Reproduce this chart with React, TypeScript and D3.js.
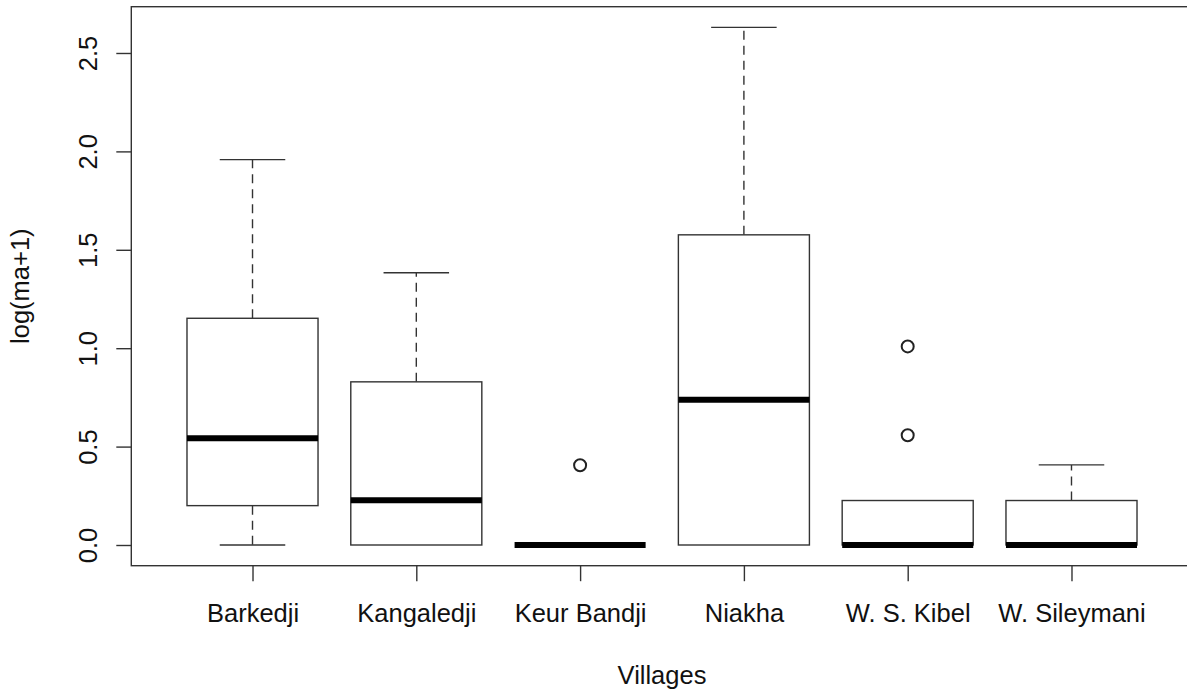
import React, { useRef, useEffect } from 'react';
import * as d3 from 'd3';

const villages = ['Barkedji', 'Kangaledji', 'Keur Bandji', 'Niakha', 'W. S. Kibel', 'W. Sileymani'];
const whiskerLow = [0, 0, 0, 0, 0, 0];
const q1 = [0.2, 0, 0, 0, 0, 0];
const median = [0.543, 0.227, 0, 0.738, 0, 0];
const q3 = [1.152, 0.829, 0, 1.576, 0.226, 0.226];
const whiskerHigh = [1.958, 1.383, 0, 2.63, 0.226, 0.407];
const outliers = [[], [], [0.405], [], [0.558, 1.009], []];
const yTicks = [0, 0.5, 1, 1.5, 2, 2.5];

const App = () => {
  const svgRef = useRef(null);
  const width = 1187;
  const height = 691;

  useEffect(() => {
    const svg = d3.select(svgRef.current);
    svg.selectAll('*').remove();

    const margin = { top: 6.7, left: 131.3, bottom: 125.3 };
    const plotRight = 1192.7;
    const innerBottom = height - margin.bottom;
    const font = '"Liberation Sans", Arial, sans-serif';
    const fontSize = '25.5px';
    const ink = '#333';

    const n = villages.length;
    const x = d3
      .scaleLinear()
      .domain([0.5 - 0.04 * n, n + 0.5 + 0.04 * n])
      .range([margin.left, plotRight]);

    const allVals = [...whiskerLow, ...whiskerHigh, ...outliers.flat()];
    const yMin = d3.min(allVals);
    const yMax = d3.max(allVals);
    const pad = (yMax - yMin) * 0.04;
    const y = d3.scaleLinear().domain([yMin - pad, yMax + pad]).range([innerBottom, margin.top]);

    const halfBox = x(1.4) - x(1);
    const halfCap = x(1.2) - x(1);

    const g = svg.append('g');

    villages.forEach((v, i) => {
      const cx = x(i + 1);
      // whiskers
      if (whiskerHigh[i] > q3[i]) {
        g.append('line')
          .attr('x1', cx).attr('x2', cx)
          .attr('y1', y(q3[i])).attr('y2', y(whiskerHigh[i]))
          .attr('stroke', ink).attr('stroke-width', 1.4).attr('stroke-dasharray', '9,6');
      }
      if (whiskerLow[i] < q1[i]) {
        g.append('line')
          .attr('x1', cx).attr('x2', cx)
          .attr('y1', y(q1[i])).attr('y2', y(whiskerLow[i]))
          .attr('stroke', ink).attr('stroke-width', 1.4).attr('stroke-dasharray', '9,6');
      }
      // caps
      [whiskerLow[i], whiskerHigh[i]].forEach((w, k) => {
        if ((k === 0 && w < q1[i]) || (k === 1 && w > q3[i])) {
          g.append('line')
            .attr('x1', cx - halfCap).attr('x2', cx + halfCap)
            .attr('y1', y(w)).attr('y2', y(w))
            .attr('stroke', ink).attr('stroke-width', 1.4);
        }
      });
      // box
      g.append('rect')
        .attr('x', cx - halfBox)
        .attr('y', y(q3[i]))
        .attr('width', halfBox * 2)
        .attr('height', y(q1[i]) - y(q3[i]))
        .attr('fill', 'white')
        .attr('stroke', ink)
        .attr('stroke-width', 1.4);
      // median
      g.append('line')
        .attr('x1', cx - halfBox).attr('x2', cx + halfBox)
        .attr('y1', y(median[i])).attr('y2', y(median[i]))
        .attr('stroke', '#000').attr('stroke-width', 6);
      // outliers
      outliers[i].forEach((o) => {
        g.append('circle')
          .attr('cx', cx).attr('cy', y(o)).attr('r', 6)
          .attr('fill', 'none').attr('stroke', '#222').attr('stroke-width', 2);
      });
    });

    // frame
    svg.append('rect')
      .attr('x', margin.left).attr('y', margin.top)
      .attr('width', plotRight - margin.left).attr('height', innerBottom - margin.top)
      .attr('fill', 'none').attr('stroke', ink).attr('stroke-width', 1.4);

    // y axis
    const yAxis = svg.append('g')
      .attr('transform', `translate(${margin.left},0)`)
      .call(d3.axisLeft(y).tickValues(yTicks).tickSize(15).tickFormat(d3.format('.1f')));
    yAxis.select('.domain').remove();
    yAxis.selectAll('line').attr('stroke', ink).attr('stroke-width', 1.4);
    yAxis.selectAll('text')
      .attr('x', 0).attr('y', 0).attr('dy', 0)
      .attr('text-anchor', 'middle')
      .attr('transform', 'translate(-34,0) rotate(-90)')
      .style('font-family', font).style('font-size', fontSize).attr('fill', '#111');

    // x axis
    const xAxis = svg.append('g')
      .attr('transform', `translate(0,${innerBottom})`)
      .call(d3.axisBottom(x).tickValues(d3.range(1, n + 1)).tickSize(15.5).tickFormat((d) => villages[d - 1]));
    xAxis.select('.domain').remove();
    xAxis.selectAll('line').attr('stroke', ink).attr('stroke-width', 1.4);
    xAxis.selectAll('text')
      .attr('y', 56).attr('dy', 0)
      .style('font-family', font).style('font-size', fontSize).attr('fill', '#111');

    // axis titles
    svg.append('text')
      .attr('x', (margin.left + plotRight) / 2)
      .attr('y', 684)
      .attr('text-anchor', 'middle')
      .style('font-family', font).style('font-size', fontSize).attr('fill', '#111')
      .text('Villages');

    svg.append('text')
      .attr('transform', `translate(29,${(margin.top + innerBottom) / 2}) rotate(-90)`)
      .attr('text-anchor', 'middle')
      .style('font-family', font).style('font-size', fontSize).attr('fill', '#111')
      .text('log(ma+1)');
  }, []);

  return (
    <svg
      ref={svgRef}
      width={width}
      height={height}
      style={{ position: 'absolute', left: 0, top: 0, background: 'white' }}
    ></svg>
  );
};

export default App;
